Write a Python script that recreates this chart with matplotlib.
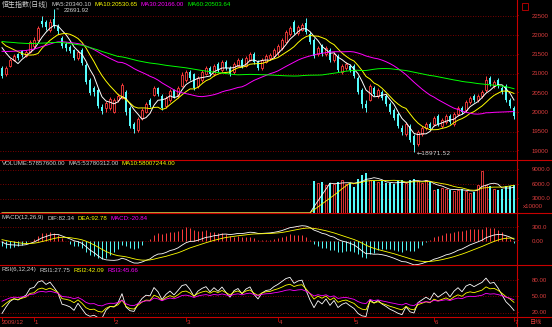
import numpy as np
import pandas as pd
import matplotlib
matplotlib.use('Agg')
import matplotlib.pyplot as plt
from matplotlib.lines import Line2D
from matplotlib.patches import Rectangle

plt.rcParams['font.family'] = ['Liberation Sans', 'DejaVu Sans']

W, H = 552, 327

# Hang Seng Index, daily, 2009-12 .. 2010-07
# closes before the first visible candle (only used to warm up MA / MACD / RSI)
warmup_close = [21800, 21900, 21750, 21950, 22050, 21850, 21900, 22000, 21800, 21950,
                22050, 21850, 21900, 22000, 21900, 22200, 22350, 22250, 22400, 22300,
                22200, 22450, 22350, 22250, 22300, 22400, 22200, 22300, 22250, 22350,
                21400, 21300, 21250, 21350, 21200, 21300, 21400, 21250, 21350, 21300,
                21200, 21350, 21300, 21250, 21400, 21700, 21850, 21950, 21800, 22000,
                21900, 22050, 21850, 21950, 21900, 22000, 21850, 21950, 21800, 21850]

opens = [21152, 20996, 21204, 21359, 21515, 21593, 21463, 21567, 21722, 21878,
         22371, 22345, 22137, 22423, 22241, 21930, 21774, 21696, 21619, 21411,
         21619, 21230, 20841, 20633, 20582, 20141, 20115, 20115, 20011, 20322,
         20374, 20530, 20115, 19700, 19544, 19855, 20011, 20322, 20452, 20633,
         20426, 20167, 20322, 20582, 20426, 20685, 20841, 21048, 20996, 20685,
         20841, 20996, 21152, 20996, 21255, 21100, 21307, 21152, 21048, 21204,
         21359, 21204, 21359, 21515, 21307, 21152, 21307, 21411, 21463, 21567,
         21670, 21826, 22034, 22345, 22060, 22137, 22319, 22034, 21878, 21515,
         21748, 21515, 21619, 21359, 21463, 21048, 21152, 21204, 21204, 20892,
         20582, 20218, 20322, 20633, 20426, 20530, 20426, 20218, 20063, 19959,
         19596, 19440, 19648, 19388, 19181, 19440, 19596, 19700, 19700, 19907,
         19648, 19752, 19907, 19700, 19959, 20115, 20063, 20270, 20426, 20322,
         20426, 20582, 20892, 20685, 20841, 20633, 20685, 20322, 20115]
highs = [21204, 21204, 21411, 21515, 21541, 21619, 21619, 21878, 21956, 22241,
         22500, 22397, 22423, 22691.92, 22293, 21982, 21826, 21748, 21644, 21619,
         21670, 21281, 20892, 20685, 20633, 20218, 20296, 20400, 20374, 20478,
         20763, 20582, 20167, 19752, 19881, 20115, 20270, 20374, 20685, 20659,
         20478, 20426, 20607, 20607, 20685, 21048, 21100, 21100, 21022, 20944,
         21100, 21204, 21204, 21255, 21307, 21359, 21359, 21204, 21307, 21411,
         21411, 21463, 21567, 21567, 21359, 21411, 21515, 21541, 21670, 21774,
         21930, 22137, 22241, 22397, 22267, 22319, 22449, 22086, 21930, 21722,
         21774, 21722, 21670, 21567, 21515, 21255, 21307, 21255, 21255, 20944,
         20633, 20322, 20737, 20685, 20633, 20582, 20478, 20270, 20115, 20011,
         19674, 19752, 19700, 19440, 19544, 19648, 19752, 19752, 19907, 19959,
         19855, 19959, 19959, 20011, 20167, 20167, 20322, 20426, 20478, 20478,
         20582, 20944, 20944, 20841, 20892, 20685, 20737, 20374, 20167]
lows = [20892, 20944, 21178, 21333, 21359, 21437, 21437, 21541, 21670, 21852,
        22215, 22137, 22086, 22189, 22034, 21670, 21593, 21541, 21359, 21359,
        21230, 20737, 20452, 20426, 20115, 19959, 20011, 20063, 19985, 20270,
        20348, 19933, 19596, 19466, 19492, 19803, 19985, 20141, 20426, 20426,
        20063, 20115, 20270, 20374, 20374, 20659, 20789, 20841, 20582, 20633,
        20789, 20970, 20944, 20944, 21048, 21048, 21100, 20944, 20996, 21178,
        21152, 21178, 21333, 21255, 21100, 21100, 21281, 21359, 21411, 21463,
        21619, 21800, 21982, 22034, 22008, 22111, 22034, 21774, 21411, 21463,
        21463, 21463, 21307, 21307, 21048, 20996, 21100, 21048, 20892, 20478,
        20115, 20011, 20296, 20426, 20374, 20322, 20167, 19959, 19803, 19596,
        19414, 19388, 19233, 18971.52, 19129, 19388, 19544, 19544, 19648, 19648,
        19596, 19700, 19700, 19648, 19907, 19959, 20011, 20218, 20270, 20270,
        20374, 20530, 20685, 20633, 20633, 20478, 20270, 20115, 19829]
closes = [20944, 21152, 21359, 21463, 21411, 21489, 21567, 21826, 21878, 22189,
          22293, 22215, 22345, 22241, 22111, 21722, 21670, 21593, 21411, 21567,
          21281, 20789, 20504, 20530, 20167, 20037, 20244, 20348, 20322, 20426,
          20711, 20011, 19648, 19570, 19829, 20063, 20218, 20192, 20633, 20478,
          20115, 20374, 20556, 20400, 20633, 20970, 21048, 20892, 20633, 20892,
          21048, 21152, 20996, 21204, 21100, 21307, 21152, 20996, 21255, 21359,
          21204, 21411, 21515, 21307, 21152, 21359, 21463, 21489, 21619, 21722,
          21878, 22086, 22189, 22086, 22215, 22267, 22086, 21826, 21463, 21670,
          21515, 21670, 21359, 21515, 21100, 21204, 21255, 21100, 20944, 20530,
          20218, 20115, 20685, 20478, 20582, 20374, 20218, 20011, 19855, 19648,
          19492, 19700, 19285, 19155, 19492, 19596, 19700, 19596, 19855, 19700,
          19803, 19907, 19752, 19959, 20115, 20011, 20270, 20374, 20322, 20426,
          20530, 20841, 20737, 20789, 20685, 20530, 20322, 20167, 19905]
# volume in units of 10000; zero where the feed had no volume
volume = [0] * 78 + [
    6600, 6200, 6400, 5800, 6200, 6000, 6400, 7000, 6000, 6200,
    5500, 7200, 7900, 8400, 6800, 6600, 6400, 6600, 6200, 6300,
    6000, 6600, 6800, 6200, 7000, 7200, 6600, 6200, 6800, 6400,
    4800, 5000, 5200, 5000, 4800, 4600, 4800, 5000, 4600, 4200,
    4400, 5800, 8800, 5800, 5720, 5000, 4800, 5000, 5600, 5700, 5785.76]

month_pos = [0, 8, 28, 46, 69, 88, 108, 128]
month_text = ['2009/12', '1', '2', '3', '4', '5', '6', '7']

price_ticks = [19000, 19500, 20000, 20500, 21000, 21500, 22000, 22500]
vol_ticks = [3000, 6000, 9000]
macd_ticks = [0, 300]
rsi_ticks = [20, 50, 80]

# ---- indicators ----
n = len(closes)
allc = pd.Series(warmup_close + closes, dtype=float)
ma = {k: allc.rolling(k).mean().values[-n:] for k in (5, 10, 30, 60)}
ema12 = allc.ewm(span=12, adjust=False).mean()
ema26 = allc.ewm(span=26, adjust=False).mean()
dif = ema12 - ema26
dea = dif.ewm(span=9, adjust=False).mean()
macd = 2 * (dif - dea)
dif, dea, macd = dif.values[-n:], dea.values[-n:], macd.values[-n:]
diff = allc.diff()
rsi = {}
for k in (6, 12, 24):
    gain = diff.clip(lower=0).ewm(alpha=1 / k, adjust=False).mean()
    move = diff.abs().ewm(alpha=1 / k, adjust=False).mean()
    rsi[k] = (100 * gain / move).values[-n:]
vol = pd.Series(volume, dtype=float)
vma5 = vol.rolling(5, min_periods=1).mean().values
vma10 = vol.rolling(10, min_periods=1).mean().values

x = np.arange(n)
o = np.array(opens); c = np.array(closes); hi = np.array(highs); lo = np.array(lows)
up = c >= o

RED = '#ff3c3c'
CYAN = '#54fcfc'
GRID = '#a00000'
LINE = '#c80000'
LAB = '#d83c3c'
TXT = '#d0d0d0'

fig = plt.figure(figsize=(W / 100, H / 100), dpi=100, facecolor='black')
renderer = fig.canvas.get_renderer()


def make_ax(top, bottom):
    ax = fig.add_axes([0, 1 - bottom / H, 517 / W, (bottom - top) / H])
    ax.set_facecolor('black')
    ax.set_xlim(-0.5, 128.75)
    for s in ax.spines.values():
        s.set_visible(False)
    ax.set_xticks([])
    ax.set_yticks([])
    return ax


def ylabels(ax, ticks, texts):
    for t, s in zip(ticks, texts):
        ax.axhline(t, color=GRID, lw=0.6, ls=(0, (1, 2)), zorder=0)
        ax.text(1.0, t, '-', transform=ax.get_yaxis_transform(), color=LINE,
                fontsize=5, va='center', ha='left', clip_on=False)
        ax.text(532 / 517, t, s, transform=ax.get_yaxis_transform(), color=LAB,
                fontsize=4.4, va='center', ha='left', clip_on=False)


def put(px, py, s, color, **kw):
    kw.setdefault('fontsize', 4.4)
    return fig.text(px / W, 1 - py / H, s, color=color, va='center', ha='left', **kw)


def header(py, parts):
    # write the coloured pieces one after the other
    px = 2
    for s, col, kw in parts:
        t = put(px, py, s, col, **kw)
        px = t.get_window_extent(renderer).x1 + 3


# ---- price panel ----
ax1 = make_ax(0, 160)
ax1.set_ylim(18767, 22915)
ylabels(ax1, price_ticks, [str(t) for t in price_ticks])
ax1.vlines(x[up], lo[up], hi[up], color=RED, lw=0.7, zorder=2)
ax1.vlines(x[~up], lo[~up], hi[~up], color=CYAN, lw=0.7, zorder=2)
ax1.bar(x[up], c[up] - o[up], bottom=o[up], width=0.7, facecolor='black',
        edgecolor=RED, lw=0.6, zorder=3)
ax1.bar(x[~up], o[~up] - c[~up], bottom=c[~up], width=0.7, color=CYAN, lw=0, zorder=3)
for k, col in ((5, '#ffffff'), (10, '#ffff00'), (30, '#ff00ff'), (60, '#00ff00')):
    ax1.plot(x, ma[k], color=col, lw=0.7, zorder=4)
ax1.annotate('22691.92', xy=(13, 22691.92), xytext=(15.5, 22640), color=TXT,
             fontsize=4.4, va='center', ha='left',
             arrowprops=dict(arrowstyle='-', color=TXT, lw=0.5))
ax1.text(103.8, 18940, '\u2190' + '18971.52', color=TXT, fontsize=4.4,
         va='center', ha='left', family=['DejaVu Sans'])

# ---- volume panel ----
ax2 = make_ax(160, 213)
ax2.set_ylim(0, 11077)
ylabels(ax2, vol_ticks, ['%d.0' % t for t in vol_ticks])
v = np.array(volume)
ax2.bar(x[up], v[up], width=0.7, facecolor='black', edgecolor=RED, lw=0.6)
ax2.bar(x[~up], v[~up], width=0.7, color=CYAN, lw=0)
ax2.plot(x, vma5, color='#ffffff', lw=0.6)
ax2.plot(x, vma10, color='#ffff00', lw=0.6)

# ---- MACD panel ----
ax3 = make_ax(213, 265)
ax3.set_ylim(-514, 600)
ylabels(ax3, macd_ticks, ['0.00', '300.0'])
ax3.vlines(x, 0, macd, colors=np.where(macd >= 0, RED, CYAN), lw=0.7)
ax3.plot(x, dif, color='#ffffff', lw=0.6)
ax3.plot(x, dea, color='#ffff00', lw=0.6)

# ---- RSI panel ----
ax4 = make_ax(265, 317)
ax4.set_ylim(12.7, 107.3)
ylabels(ax4, rsi_ticks, ['%d.00' % t for t in rsi_ticks])
ax4.plot(x, rsi[6], color='#ffffff', lw=0.6)
ax4.plot(x, rsi[12], color='#ffff00', lw=0.6)
ax4.plot(x, rsi[24], color='#ff00ff', lw=0.6)

# ---- frame lines ----
for yy in (160, 213, 265, 317):
    fig.add_artist(Line2D([0, 1], [1 - yy / H] * 2, color=LINE, lw=0.8))
fig.add_artist(Line2D([517 / W] * 2, [0, 1], color=LINE, lw=0.8))
fig.add_artist(Rectangle((522 / W, 1 - 10 / H), 6 / W, 7 / H, fill=False,
                         edgecolor=LINE, lw=0.6))

# ---- headers ----
cjk = {'family': ['Noto Sans CJK SC', 'DejaVu Sans'], 'fontsize': 5.0}
header(5, [('恒生指数(日线)', TXT, cjk), ('MA5:20340.10', TXT, {}),
           ('MA10:20530.65', '#ffff00', {}), ('MA30:20166.00', '#ff00ff', {}),
           ('MA60:20503.64', '#00ff00', {})])
header(164, [('VOLUME:57857600.00', TXT, {}), ('MA5:53780312.00', TXT, {}),
             ('MA10:58007244.00', '#ffff00', {})])
header(218, [('MACD(12,26,9)', TXT, {}), ('DIF:82.34', TXT, {}),
             ('DEA:92.78', '#ffff00', {}), ('MACD:-20.84', '#ff00ff', {})])
header(270, [('RSI(6,12,24)', TXT, {}), ('RSI1:27.75', TXT, {}),
             ('RSI2:42.09', '#ffff00', {}), ('RSI3:45.66', '#ff00ff', {})])
put(523, 207, 'x10000', LAB)

# ---- date axis ----
for p, s in zip(month_pos, month_text):
    px = 2 + 4 * p
    put(px + (0 if p == 0 else 1), 322, s, LAB)
    fig.add_artist(Line2D([px / W] * 2, [1 - 317 / H, 1 - 321 / H], color=LINE, lw=0.6))
put(530, 322, '日线', LAB, family=['Noto Sans CJK SC'])

fig.savefig('out.png', dpi=100, facecolor='black')
